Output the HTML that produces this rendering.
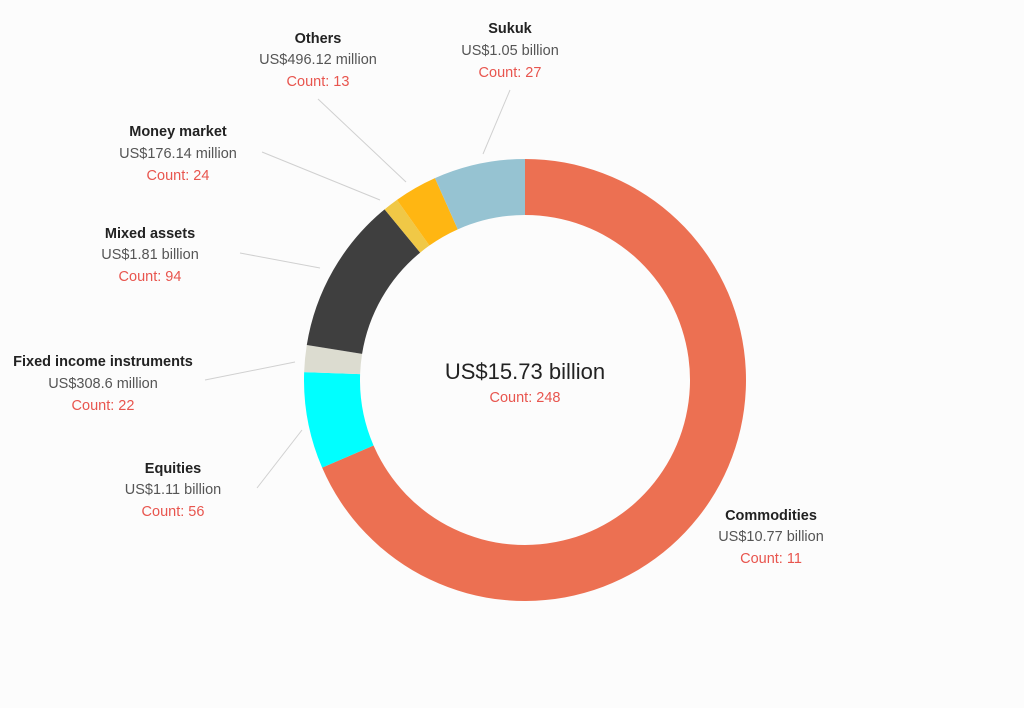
<!DOCTYPE html>
<html><head><meta charset="utf-8"><style>
body{margin:0;background:#fcfcfc;}
svg text{font-family:"Liberation Sans",sans-serif;font-size:14.5px;text-anchor:middle;}
.t{fill:#222;font-weight:bold;}
.v{fill:#555;}
.c{fill:#e8554e;}
</style></head><body>
<svg id="s" width="1024" height="703" viewBox="0 0 1024 703">
<rect width="1024" height="703" fill="#fcfcfc"/>
<g id="arcs"></g>
<g stroke="#d0d0d0" stroke-width="1">
<line x1="318" y1="99" x2="406" y2="182"/>
<line x1="510" y1="90" x2="483" y2="154"/>
<line x1="262" y1="152" x2="380" y2="200"/>
<line x1="240" y1="253" x2="320" y2="268"/>
<line x1="205" y1="380" x2="295" y2="362"/>
<line x1="257" y1="488" x2="302" y2="430"/>
</g>
<text x="318" y="43" class="t">Others</text><text x="318" y="64" class="v">US$496.12 million</text><text x="318" y="86" class="c">Count: 13</text>
<text x="510" y="33" class="t">Sukuk</text><text x="510" y="55" class="v">US$1.05 billion</text><text x="510" y="77" class="c">Count: 27</text>
<text x="178" y="136" class="t">Money market</text><text x="178" y="158" class="v">US$176.14 million</text><text x="178" y="180" class="c">Count: 24</text>
<text x="150" y="238" class="t">Mixed assets</text><text x="150" y="259" class="v">US$1.81 billion</text><text x="150" y="281" class="c">Count: 94</text>
<text x="103" y="366" class="t">Fixed income instruments</text><text x="103" y="388" class="v">US$308.6 million</text><text x="103" y="410" class="c">Count: 22</text>
<text x="173" y="473" class="t">Equities</text><text x="173" y="494" class="v">US$1.11 billion</text><text x="173" y="516" class="c">Count: 56</text>
<text x="771" y="520" class="t">Commodities</text><text x="771" y="541" class="v">US$10.77 billion</text><text x="771" y="563" class="c">Count: 11</text>
<text x="525" y="379" style="font-size:22px;fill:#222">US$15.73 billion</text>
<text x="525" y="402" class="c">Count: 248</text>
</svg>
<script>
var cx=525,cy=380,R=221,r=165;
var d=[[10.77,"#ec7052"],[1.11,"#00ffff"],[0.3086,"#dcdcd0"],[1.81,"#3f3f3f"],[0.17614,"#f0c846"],[0.49612,"#ffb612"],[1.05,"#96c3d2"]];
var tot=0;d.forEach(function(x){tot+=x[0]});
var a=0,g=document.getElementById("arcs"),h="";
function p(rad,ang){return [cx+rad*Math.sin(ang),cy-rad*Math.cos(ang)];}
d.forEach(function(x){
var b=a+x[0]/tot*2*Math.PI,l=(b-a)>Math.PI?1:0;
var p1=p(R,a),p2=p(R,b),p3=p(r,b),p4=p(r,a);
h+='<path fill="'+x[1]+'" d="M'+p1+' A'+R+' '+R+' 0 '+l+' 1 '+p2+' L'+p3+' A'+r+' '+r+' 0 '+l+' 0 '+p4+' Z"/>';
a=b;});
g.innerHTML=h;
</script>
</body></html>
